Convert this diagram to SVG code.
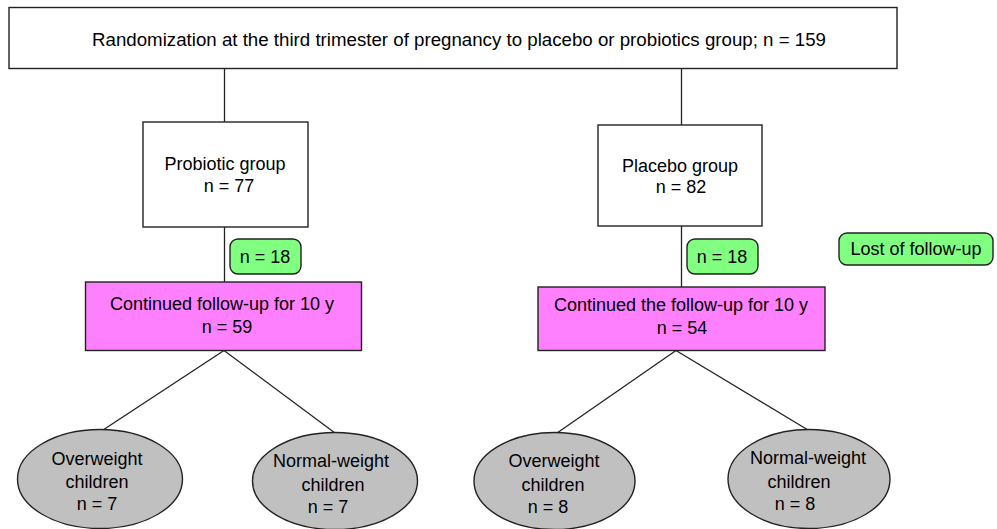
<svg xmlns="http://www.w3.org/2000/svg" width="997" height="529" viewBox="0 0 997 529">
<style>
text{font-family:"Liberation Sans",Arial,sans-serif;font-size:18px;fill:#000;text-anchor:middle}
.box{fill:#fff;stroke:#222;stroke-width:1.4}
.pink{fill:#FF80FF;stroke:#222;stroke-width:1.4}
.green{fill:#80FF80;stroke:#222;stroke-width:1.4}
.oval{fill:#C0C0C0;stroke:#222;stroke-width:1.4}
.c{stroke:#222;stroke-width:1.3;fill:none}
</style>
<rect width="997" height="529" fill="#fff"/>
<g id="connectors">
<line class="c" x1="224.5" y1="68" x2="224.5" y2="122"/>
<line class="c" x1="681.5" y1="68" x2="681.5" y2="125"/>
<line class="c" x1="224.5" y1="227" x2="224.5" y2="282"/>
<line class="c" x1="681.5" y1="226" x2="681.5" y2="287"/>
<line class="c" x1="224" y1="350.5" x2="103" y2="430"/>
<line class="c" x1="224" y1="350.5" x2="335" y2="433"/>
<line class="c" x1="676" y1="350.5" x2="557" y2="433"/>
<line class="c" x1="676" y1="350.5" x2="808" y2="430"/>
</g>
<g id="randomization">
<rect class="box" x="9" y="7.5" width="888" height="61"/>
<text x="459" y="46" style="font-size:18.7px">Randomization at the third trimester of pregnancy to placebo or probiotics group; n = 159</text>
</g>
<g id="probiotic">
<rect class="box" x="143" y="122" width="165" height="105"/>
<text x="225" y="170">Probiotic group</text>
<text x="229" y="192">n = 77</text>
</g>
<g id="placebo">
<rect class="box" x="598" y="125" width="164" height="101"/>
<text x="680" y="172">Placebo group</text>
<text x="681" y="193">n = 82</text>
</g>
<g id="lost-probiotic">
<rect class="green" x="230" y="239" width="71" height="35" rx="8"/>
<text x="265" y="263">n = 18</text>
</g>
<g id="lost-placebo">
<rect class="green" x="687" y="239" width="71" height="35" rx="8"/>
<text x="722" y="263">n = 18</text>
</g>
<g id="lost-legend">
<rect class="green" x="839" y="233" width="154" height="32" rx="8"/>
<text x="916" y="255">Lost of follow-up</text>
</g>
<g id="followup-probiotic">
<rect class="pink" x="85.5" y="282" width="276" height="68.5"/>
<text x="222" y="310">Continued follow-up for 10 y</text>
<text x="227" y="333">n = 59</text>
</g>
<g id="followup-placebo">
<rect class="pink" x="538" y="287" width="287" height="63.5"/>
<text x="681" y="311">Continued the follow-up for 10 y</text>
<text x="682" y="334">n = 54</text>
</g>
<g id="overweight-probiotic">
<ellipse class="oval" cx="100" cy="479" rx="82.5" ry="49.5"/>
<text x="97" y="465">Overweight</text>
<text x="97" y="488">children</text>
<text x="97" y="510">n = 7</text>
</g>
<g id="normal-probiotic">
<ellipse class="oval" cx="335" cy="481" rx="82.5" ry="48.5"/>
<text x="331" y="467">Normal-weight</text>
<text x="333" y="491">children</text>
<text x="328" y="513">n = 7</text>
</g>
<g id="overweight-placebo">
<ellipse class="oval" cx="554.5" cy="481" rx="80.5" ry="48.5"/>
<text x="554" y="467">Overweight</text>
<text x="553" y="491">children</text>
<text x="548" y="513">n = 8</text>
</g>
<g id="normal-placebo">
<ellipse class="oval" cx="809" cy="479" rx="81" ry="49.5"/>
<text x="808" y="464">Normal-weight</text>
<text x="799" y="488">children</text>
<text x="795" y="510">n = 8</text>
</g>
</svg>
